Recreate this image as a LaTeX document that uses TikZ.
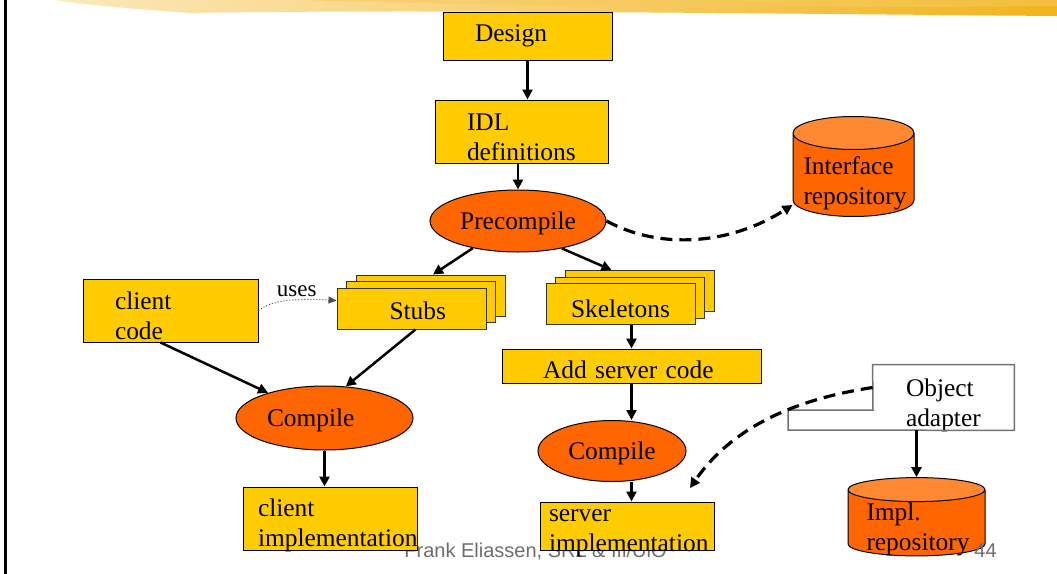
\documentclass[tikz,border=0pt]{standalone}
\usepackage{fontspec}
\setmainfont{Liberation Serif}
\newfontfamily\footfont{Liberation Sans}
\usetikzlibrary{positioning, arrows.meta, shapes.geometric}
\definecolor{boxyellow}{HTML}{FFCC00}
\definecolor{stageorange}{HTML}{FF6600}
\definecolor{reptop}{HTML}{FF8833}
\definecolor{footgray}{HTML}{6E6E6E}
\definecolor{brushgold}{HTML}{F2B41C}

\begin{document}
\begin{tikzpicture}[x=0.5pt, y=-0.5pt, font=\fontsize{12.7}{15}\selectfont,
    box/.style={draw=black, line width=0.5pt, fill=boxyellow, inner sep=0pt, align=left},
    stage/.style={ellipse, draw=black, line width=0.5pt, fill=stageorange, inner sep=0pt, text height=8.4pt, text depth=0pt},
    repo/.style={cylinder, shape border rotate=90, draw=black, line width=0.5pt, cylinder uses custom fill,
        cylinder body fill=stageorange, cylinder end fill=reptop, inner sep=0pt, align=left},
    flow/.style={line width=1.25pt, -{Triangle[length=5pt,width=5pt]}},
    dashflow/.style={line width=1.6pt, dash pattern=on 6pt off 3.5pt, -{Triangle[length=5pt,width=5pt]}},
    usesline/.style={line width=0.5pt, densely dotted, draw=black!70, -{Triangle[length=4pt,width=3.5pt]}}]

    \useasboundingbox[fill=white] (0,0) rectangle (1057,574);

    % slide decoration
    \shade[left color=brushgold!30, right color=brushgold] (55,0) -- (1057,0) -- (1057,16)
        .. controls (800,14) and (420,9) .. (190,13) .. controls (120,8) and (80,4) .. (55,0) -- cycle;
    \fill[brushgold!70, opacity=0.5] (300,0) -- (1057,0) -- (1057,6) .. controls (800,9) and (500,6) .. (300,0) -- cycle;
    \draw[line width=1.3pt] (5.5,0) -- (5.5,574);

    % nodes
    \node[box, minimum width=84.5pt, minimum height=24pt, text width=52.5pt] (design) at (527.5,36) {Design};
    \node[box, minimum width=86.5pt, minimum height=31.5pt, text width=54.5pt, text height=9pt, text depth=9.9pt] (idl) at (521.5,131.5) {IDL\\definitions};
    \node[stage, minimum width=88pt, minimum height=31pt] (pre) at (518,221) {Precompile};
    \node[repo, minimum width=60.5pt, minimum height=50pt, aspect=0.33, text width=50pt, text height=9pt, text depth=9.9pt] (irep) at (853.5,175) {Interface\\repository};

    \node[box, minimum width=87.5pt, minimum height=31.5pt, text width=55.5pt, text height=9pt, text depth=10.4pt] (client) at (170.5,310.5) {client\\code};

    \node[box, draw=black!80, minimum width=74.5pt, minimum height=20.5pt] (stub3) at (430.5,295.5) {};
    \node[box, draw=black!80, minimum width=74.5pt, minimum height=20.5pt] (stub2) at (421,302) {};
    \node[box, draw=black!80, minimum width=74.5pt, minimum height=20.5pt, text width=22pt, text height=10.6pt, text depth=0pt] (stubs) at (411.5,308.5) {Stubs};

    \node[box, draw=black!80, minimum width=74.5pt, minimum height=20.5pt] (skel3) at (639.5,291) {};
    \node[box, draw=black!80, minimum width=74.5pt, minimum height=20.5pt] (skel2) at (630,297.5) {};
    \node[box, draw=black!80, minimum width=74.5pt, minimum height=20.5pt, text height=13.6pt, text depth=0pt] (skel) at (620.5,303.5) {Skeletons};

    \node[box, minimum width=129.5pt, minimum height=17pt, text width=88.5pt, text height=12.1pt, text depth=0pt] (add) at (631.5,366) {Add server code};
    \node[stage, minimum width=88.5pt, minimum height=32pt, text width=57.5pt, align=left] (c1) at (324.5,418) {Compile};
    \node[stage, minimum width=74pt, minimum height=30.5pt] (c2) at (612,451) {Compile};

    \node[minimum width=70.5pt, minimum height=32.5pt, text width=37.5pt, align=left, inner sep=0pt, text height=9pt, text depth=10.4pt] (oa) at (943.5,397.5) {Object\\adapter};
    \draw[draw=black!55, line width=0.75pt] (oa.north west) -- (oa.north east) -- (oa.south east) -- (788,430) -- (788,410) -- (873,410) -- cycle;
    \coordinate (oatip) at (690,488);

    \node[repo, minimum width=68.5pt, minimum height=37.5pt, aspect=0.24, text width=50pt, text height=9pt, text depth=11.9pt] (irepl) at (916.5,523) {Impl.\\repository};

    % footer
    \node[font=\footfont\fontsize{10}{12}\selectfont, text=footgray, anchor=base west, inner sep=0pt] (credit) at (404,557) {Frank Eliassen, SRL \& Ifi/UiO};
    \node[font=\footfont\fontsize{10}{12}\selectfont, text=footgray, anchor=base west, inner sep=0pt] (pageno) at (974,557) {44};

    \node[box, minimum width=87pt, minimum height=31.5pt, text width=72pt, text height=9pt, text depth=10.9pt] (cimpl) at (330,518.5) {client\\implementation};
    \node[box, minimum width=87pt, minimum height=24pt, text width=78pt, text height=9pt, text depth=13.9pt] (simpl) at (627,526) {server\\implementation};

    % connectors
    \draw[flow] (design.south) -- (design.south |- idl.north);
    \draw[flow] (idl.south -| pre.north) -- (pre.north);
    \draw[flow] (pre.211) -- ([xshift=1.25pt]stub3.north);
    \draw[flow] (pre.328) -- ([xshift=-14pt]skel3.north);
    \draw[dashflow] (pre.east) .. controls (660,250) and (730,245) .. ([yshift=-15pt]irep.west);
    \draw[usesline] (client.east) .. controls (272,300) and (295,298) .. ([yshift=4pt]stubs.west)
        node[pos=0.62, above=1.5pt, inner sep=0pt, font=\fontsize{11.5}{13}\selectfont] (uses) {uses};
    \draw[flow] ([xshift=-5pt]client.south) -- (c1.156);
    \draw[flow] ([xshift=2pt]stubs.south) -- (c1.56);
    \draw[flow] (c1.south) -- (c1.south |- cimpl.north);
    \draw[flow] (skel.south -| add.north) -- (add.north);
    \draw[flow] (add.south) -- (add.south |- c2.north);
    \draw[flow] (add.south |- c2.south) -- (add.south |- simpl.north);
    \draw[dashflow] ([yshift=5pt]oa.west) .. controls (790,400) and (730,430) .. (oatip);
    \draw[flow] (oa.south -| irepl.north) -- (irepl.north);
\end{tikzpicture}
\end{document}
